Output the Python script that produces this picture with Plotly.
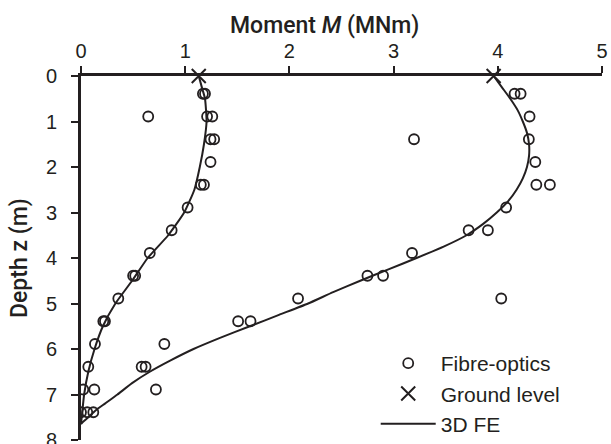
import plotly.graph_objects as go

# Fibre-optic bending moments along the two piles (moment in MNm, depth in m)
fo_left_m = [1.17, 1.19, 0.645, 1.21, 1.26, 1.243, 1.278, 1.243, 1.15, 1.18, 1.023, 0.87,
             0.66, 0.50, 0.52, 0.358, 0.214, 0.23, 0.134, 0.07, 0.022, 0.128, 0.0, 0.06]
fo_left_z = [0.39, 0.39, 0.89, 0.89, 0.89, 1.39, 1.39, 1.89, 2.39, 2.39, 2.89, 3.39,
             3.89, 4.39, 4.39, 4.89, 5.39, 5.39, 5.89, 6.39, 6.89, 6.89, 7.39, 7.39]

fo_right_m = [4.161, 4.219, 4.305, 3.196, 4.298, 4.36, 4.37, 4.50, 4.08, 3.72, 3.905,
              3.177, 2.749, 2.899, 2.083, 4.033, 1.508, 1.627, 0.80, 0.582, 0.62, 0.719, 0.118]
fo_right_z = [0.39, 0.39, 0.89, 1.39, 1.39, 1.89, 2.39, 2.39, 2.89, 3.39, 3.39,
              3.89, 4.39, 4.39, 4.89, 4.89, 5.39, 5.39, 5.89, 6.39, 6.39, 6.89, 7.39]

# Moment at ground level
gl_m = [1.13, 3.96]
gl_z = [0.0, 0.0]

# 3D finite-element moment profiles
fe_left_m = [1.13, 1.16, 1.19, 1.205, 1.18, 1.14, 1.088, 0.99, 0.837, 0.64, 0.49,
             0.33, 0.21, 0.13, 0.07, 0.03, 0.007, 0.0]
fe_left_z = [0.0, 0.25, 0.5, 1.0, 1.5, 2.0, 2.5, 3.0, 3.5, 4.0, 4.5,
             5.0, 5.5, 6.0, 6.5, 7.0, 7.5, 7.65]

fe_right_m = [3.96, 4.04, 4.12, 4.19, 4.24, 4.28, 4.30, 4.30, 4.28, 4.24, 4.18, 4.10,
              3.99, 3.86, 3.70, 3.48, 3.22, 2.95, 2.68, 2.42, 2.18, 1.90, 1.62, 1.34,
              1.08, 0.86, 0.66, 0.49, 0.35, 0.23, 0.14, 0.07, 0.02, 0.0]
fe_right_z = [0.0, 0.25, 0.5, 0.75, 1.0, 1.25, 1.5, 1.75, 2.0, 2.25, 2.5, 2.75,
              3.0, 3.25, 3.5, 3.75, 4.0, 4.25, 4.5, 4.75, 5.0, 5.25, 5.5, 5.75,
              6.0, 6.25, 6.5, 6.75, 7.0, 7.2, 7.35, 7.5, 7.6, 7.65]

x_ticks = [0, 1, 2, 3, 4, 5]
y_ticks = [0, 1, 2, 3, 4, 5, 6, 7, 8]

INK = "#231f20"
TICK_FONT = dict(family="Liberation Sans, Arial, sans-serif", size=20, color=INK)

fig = go.Figure()

fig.add_trace(go.Scatter(
    x=fo_left_m + fo_right_m, y=fo_left_z + fo_right_z,
    mode="markers", name="Fibre-optics",
    marker=dict(symbol="circle-open", size=10, color=INK, line=dict(width=1.8, color=INK)),
))
fig.add_trace(go.Scatter(
    x=gl_m, y=gl_z, mode="markers", name="Ground level", cliponaxis=False,
    marker=dict(symbol="x-thin-open", size=14, color=INK, line=dict(width=2, color=INK)),
))
fig.add_trace(go.Scatter(
    x=fe_left_m, y=fe_left_z, mode="lines", name="3D FE", legendgroup="fe",
    line=dict(color=INK, width=2, shape="spline", smoothing=0.5),
))
fig.add_trace(go.Scatter(
    x=fe_right_m, y=fe_right_z, mode="lines", name="3D FE", legendgroup="fe",
    showlegend=False,
    line=dict(color=INK, width=2, shape="spline", smoothing=0.5),
))

fig.update_xaxes(
    range=[0, 5], side="top", tickvals=x_ticks, ticktext=[str(v) for v in x_ticks],
    showline=True, linewidth=3, linecolor=INK, mirror=False,
    ticks="outside", ticklen=7, tickwidth=2, tickcolor=INK,
    showgrid=False, zeroline=False, tickfont=TICK_FONT,
)
fig.update_yaxes(
    range=[8, 0], tickvals=y_ticks, ticktext=[str(v) for v in y_ticks],
    showline=True, linewidth=3, linecolor=INK,
    ticks="outside", ticklen=7, tickwidth=2, tickcolor=INK,
    showgrid=False, zeroline=False, tickfont=TICK_FONT, ticklabelstandoff=10,
    ticklabeloverflow="allow",
)

TITLE_FONT = dict(family="Roboto, Liberation Sans, Arial, sans-serif", size=23,
                  color=INK, weight=500)

fig.add_annotation(
    text="Moment <i>M</i> (MNm)", xref="paper", yref="paper",
    x=(325 - 81) / 521.5, y=1, yshift=51, xanchor="center", yanchor="middle",
    showarrow=False, font=TITLE_FONT,
)
fig.add_annotation(
    text="Depth z (m)", xref="paper", yref="paper", textangle=-90,
    x=0, xshift=-62, y=0.5, xanchor="center", yanchor="middle",
    showarrow=False, font=TITLE_FONT,
)

fig.update_layout(
    width=611, height=444,
    margin=dict(l=81, r=9, t=76, b=4, autoexpand=False),
    paper_bgcolor="white", plot_bgcolor="white",
    showlegend=True,
    legend=dict(
        x=(376 - 81) / 521.5, y=(440 - 343) / 364, xanchor="left", yanchor="top",
        bgcolor="rgba(0,0,0,0)", font=dict(family="Liberation Sans, Arial, sans-serif",
                                          size=21, color=INK),
        tracegroupgap=0, itemwidth=55,
    ),
)

fig.write_html("out.html")
